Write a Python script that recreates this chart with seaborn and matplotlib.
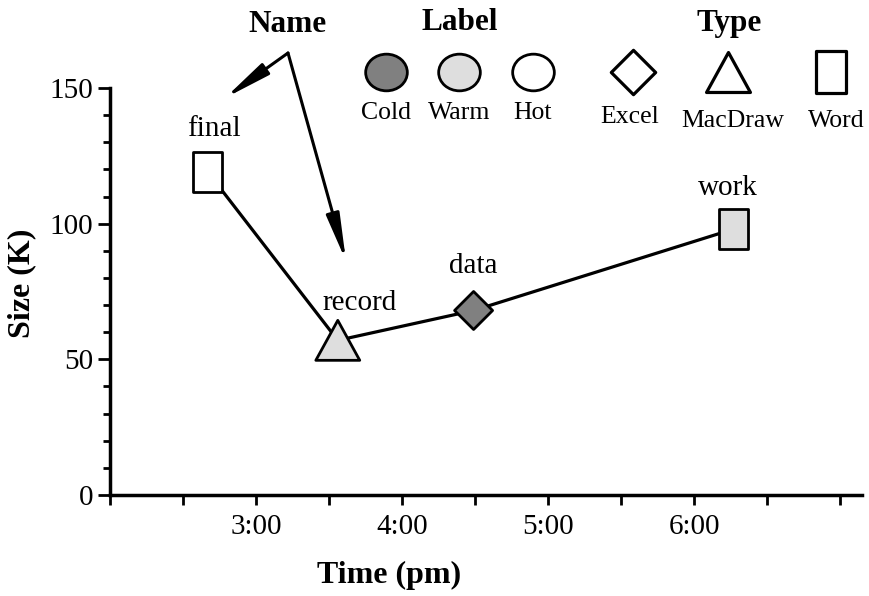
import pandas as pd
import matplotlib.pyplot as plt
from matplotlib.path import Path
from matplotlib.transforms import Affine2D
from matplotlib.ticker import MultipleLocator, FuncFormatter
import seaborn as sns

# data (time in decimal hours pm, size in K)
names = ["final", "record", "data", "work"]
times = [2.67, 3.56, 4.49, 6.27]
sizes = [119, 57, 68, 98]
labels = ["Hot", "Warm", "Cold", "Warm"]
types = ["Word", "MacDraw", "Excel", "Word"]

label_names = ["Cold", "Warm", "Hot"]
type_names = ["Excel", "MacDraw", "Word"]
hour_ticks = [3, 4, 5, 6]
y_ticks = [0, 50, 100, 150]

df = pd.DataFrame({"name": names, "time": times, "size": sizes,
                   "label": labels, "type": types})

sns.set_style("ticks")
plt.rcParams["font.family"] = ["Liberation Serif", "DejaVu Serif"]
for k in ["text.color", "axes.labelcolor", "xtick.color", "ytick.color",
          "axes.edgecolor"]:
    plt.rcParams[k] = "black"

# fills and marker shapes
fills = {"Cold": "#808080", "Warm": "#dedede", "Hot": "white"}


def poly(pts):
    codes = [Path.MOVETO] + [Path.LINETO] * (len(pts) - 1) + [Path.CLOSEPOLY]
    return Path(list(pts) + [pts[0]], codes)


rect = poly([(-0.36, -0.5), (0.36, -0.5), (0.36, 0.5), (-0.36, 0.5)])
tri = poly([(0, 0.455), (-0.5, -0.455), (0.5, -0.455)])
diam = poly([(0, 0.5), (0.5, 0), (0, -0.5), (-0.5, 0)])
circ = Path.unit_circle().transformed(Affine2D().scale(0.5, 0.44))
shapes = {"Excel": diam, "MacDraw": tri, "Word": rect}
areas = {"Excel": 750, "MacDraw": 1000, "Word": 830}

fig = plt.figure(figsize=(8.7, 5.96), dpi=100)
ax = fig.add_axes([110 / 870, 101 / 596, 752 / 870, 407 / 596])

sns.lineplot(data=df, x="time", y="size", sort=False, color="black",
             lw=2.3, ax=ax, zorder=2)
sns.scatterplot(data=df, x="time", y="size", hue="label", style="type",
                size="type", palette=fills, markers=shapes, sizes=areas,
                edgecolor="black", linewidth=2, legend=False, ax=ax, zorder=3)

# point names
offsets = {"final": (4, 31), "record": (16, 27), "data": (0, 32), "work": (-4, 29.5)}
for n, t, s in zip(names, times, sizes):
    ax.annotate(n, (t, s), xytext=offsets[n], textcoords="offset points",
                ha="center", va="center", fontsize=21)

ax.set_xlim(2, 7.15)
ax.set_ylim(0, 150)
ax.xaxis.set_major_locator(MultipleLocator(0.5))
ax.xaxis.set_major_formatter(FuncFormatter(
    lambda v, p: f"{int(v)}:00" if v in hour_ticks else ""))
ax.set_yticks(y_ticks)
ax.yaxis.set_minor_locator(MultipleLocator(10))
ax.tick_params(axis="x", direction="out", length=7, width=2, labelsize=21, pad=7)
ax.tick_params(axis="y", which="major", direction="out", length=9, width=2,
               labelsize=21, pad=3)
ax.tick_params(axis="y", which="minor", direction="out", length=5, width=2)
for side in ["top", "right"]:
    ax.spines[side].set_visible(False)
for side in ["left", "bottom"]:
    ax.spines[side].set_linewidth(2.5)

ax.set_xlabel("Time (pm)", fontsize=23, fontweight="bold")
ax.set_ylabel("Size (K)", fontsize=23, fontweight="bold")
ax.xaxis.set_label_coords(0.371, -0.197)
ax.yaxis.set_label_coords(-0.117, 0.52)
ax.xaxis.label.set_va("center")
ax.yaxis.label.set_va("center")

# key drawn on an overlay in pixel coordinates
ov = fig.add_axes([0, 0, 1, 1], zorder=5)
ov.set_xlim(0, 870)
ov.set_ylim(596, 0)
ov.axis("off")

ov.text(287, 25, "Name", ha="center", va="center", fontsize=22.5, fontweight="bold")
ov.text(460, 23, "Label", ha="center", va="center", fontsize=22.5, fontweight="bold")
ov.text(729, 23, "Type", ha="center", va="center", fontsize=22.5, fontweight="bold")

arrow = dict(arrowstyle="-|>,head_length=1.4,head_width=0.2", color="black",
             lw=2.2, mutation_scale=20, shrinkA=0, shrinkB=0)
ov.annotate("", xy=(225, 98), xytext=(288, 53), arrowprops=arrow)
ov.annotate("", xy=(346, 261), xytext=(288, 53), arrowprops=arrow)

for lab, x in zip(label_names, [386, 459, 533]):
    ov.scatter([x], [72], marker=circ, s=900, color=fills[lab],
               edgecolor="black", linewidth=2)
    ov.text(x, 113, lab, ha="center", va="center", fontsize=18.5)

key_x = [633, 728, 831]
key_s = [1020, 1000, 880]
text_y = [117, 121, 121]
for typ, x, s, ty in zip(type_names, key_x, key_s, text_y):
    ov.scatter([x], [72], marker=shapes[typ], s=s, color="white",
               edgecolor="black", linewidth=2.3)
    ov.text(x + (5 if typ != "Excel" else -3), ty, typ, ha="center",
            va="center", fontsize=18.5)

fig.savefig("out.png", dpi=100)
